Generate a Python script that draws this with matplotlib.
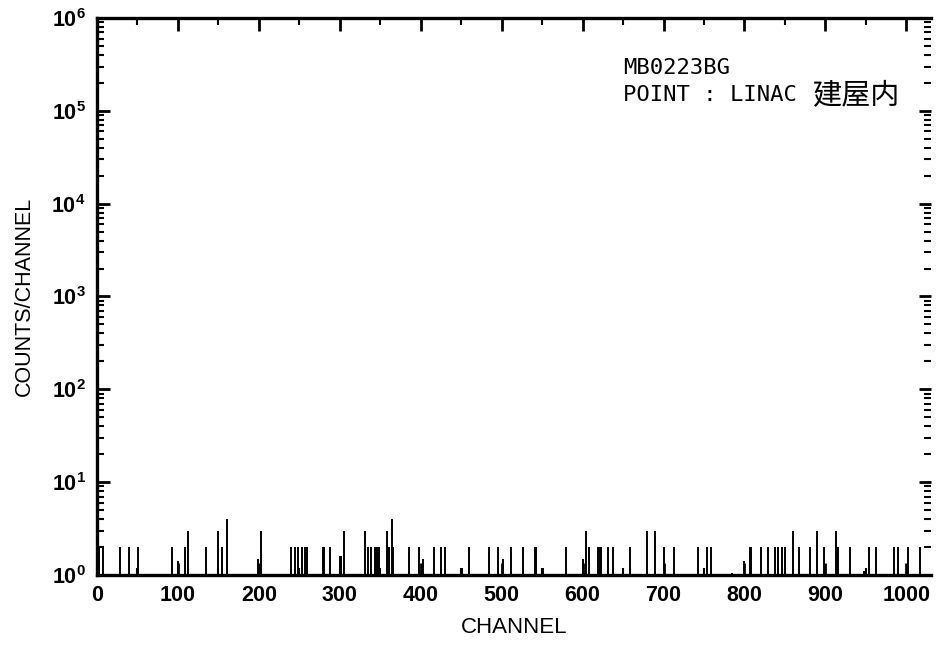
import matplotlib
matplotlib.use('Agg')
import matplotlib.pyplot as plt
from matplotlib.ticker import MultipleLocator, LogLocator, NullFormatter

# spike channels and their counts (baseline = 1)
channels = [3, 7, 28, 40, 51, 93, 100, 109, 113, 135, 150, 154, 161, 199, 203,
            240, 245, 249, 253, 257, 259, 279, 281, 288, 300, 302, 305, 331, 335,
            339, 343, 346, 349, 358, 361, 364, 366, 386, 398, 403, 417, 425, 430,
            451, 460, 484, 495, 502, 511, 526, 541, 543, 551, 579, 600, 604, 608,
            619, 621, 623, 632, 638, 650, 659, 679, 690, 700, 713, 742, 754, 759,
            785, 800, 807, 808, 821, 829, 838, 842, 846, 850, 860, 867, 881, 889,
            898, 913, 916, 930, 948, 954, 963, 985, 990, 1002, 1017]
counts = [2, 2, 2, 2, 2, 2, 1.4, 2, 3, 2, 3, 2, 4, 1.5, 3,
          2, 2, 2, 2, 2, 2, 2, 2, 2, 1.6, 1.6, 3, 3, 2,
          2, 2, 2, 2, 3, 2, 4, 2, 2, 2, 1.5, 2, 2, 2,
          1.2, 2, 2, 2, 1.5, 2, 2, 2, 2, 1.2, 2, 1.5, 3, 2,
          2, 2, 2, 2, 2, 1.2, 2, 3, 3, 2, 2, 2, 2, 2,
          1.05, 1.4, 2, 2, 2, 2, 2, 2, 2, 2, 3, 2, 2, 3,
          2, 3, 2, 2, 1.1, 2, 2, 2, 2, 2, 2]

sample_name = 'MB0223BG'
point_label = 'POINT : LINAC'
point_jp = '建屋内'

plt.rcParams['font.family'] = ['Liberation Sans', 'DejaVu Sans']
plt.rcParams['mathtext.fontset'] = 'custom'
plt.rcParams['mathtext.rm'] = 'Liberation Sans:bold'
plt.rcParams['mathtext.it'] = 'Liberation Sans:italic'
plt.rcParams['mathtext.bf'] = 'Liberation Sans:bold'

fig = plt.figure(figsize=(9.41, 6.48), dpi=100)
ax = fig.add_axes([0.103, 0.1127, 0.886, 0.8595])

ax.vlines(channels, 1, counts, color='black', linewidth=1.4)

ax.set_yscale('log')
ax.set_ylim(1, 1e6)
ax.set_xlim(0, 1030)

ax.xaxis.set_major_locator(MultipleLocator(100))
ax.xaxis.set_minor_locator(MultipleLocator(50))
ax.yaxis.set_major_locator(LogLocator(base=10, numticks=10))
ax.yaxis.set_minor_locator(LogLocator(base=10, subs=range(2, 10), numticks=20))
ax.yaxis.set_minor_formatter(NullFormatter())

ax.tick_params(which='both', direction='in', top=True, right=True, colors='black')
ax.tick_params(which='major', length=9, width=2, labelsize=15.5, pad=7)
ax.tick_params(which='minor', length=5, width=1.5)
ax.tick_params(axis='y', which='major', pad=8)
for lab in ax.get_xticklabels() + ax.get_yticklabels():
    lab.set_fontweight('bold')

for side in ['left', 'bottom', 'top']:
    ax.spines[side].set_linewidth(2.4)
ax.spines['right'].set_visible(False)

ax.set_xlabel('CHANNEL', fontsize=16, labelpad=8)
ax.set_ylabel('COUNTS/CHANNEL', fontsize=15.5, labelpad=12)

mono = ['DejaVu Sans Mono', 'Noto Sans CJK JP']
ax.text(0.631, 0.91, sample_name, transform=ax.transAxes, fontsize=16,
        family=mono, va='center', ha='left')
ax.text(0.631, 0.862, point_label, transform=ax.transAxes, fontsize=16,
        family=mono, va='center', ha='left')
ax.text(0.963, 0.862, point_jp, transform=ax.transAxes, fontsize=21,
        family=['Noto Sans CJK JP'], va='center', ha='right')

fig.savefig('out.png', dpi=100)
